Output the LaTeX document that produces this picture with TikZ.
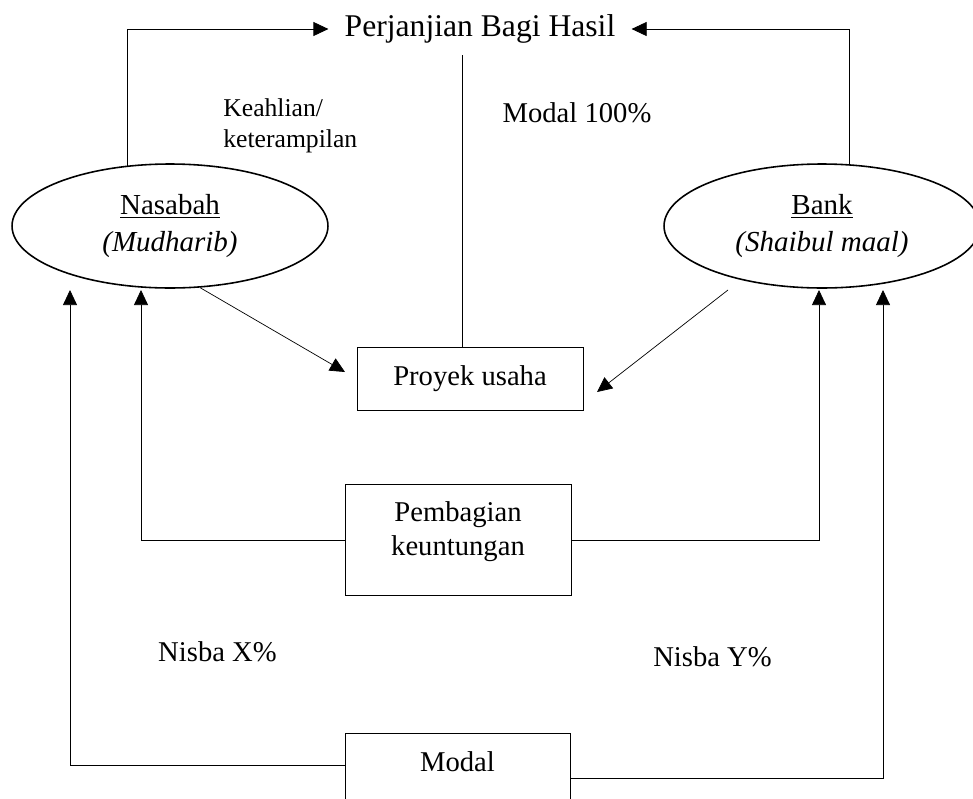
\documentclass[tikz,border=0pt]{standalone}
\usepackage{fontspec}
\setmainfont{Liberation Serif}
\usetikzlibrary{arrows.meta, shapes.geometric}
\tikzset{
	,line width = 1.1pt
	,font = \fontsize{16.3}{19.8}\selectfont
	,pihak/.style = {ellipse, draw=black, line width=0.9pt, align=center, inner sep=0pt, minimum width=6.32cm, minimum height=2.48cm, font=\fontsize{16.5}{21}\selectfont}
	,kotak/.style = {rectangle, draw=black, align=center, minimum width=4.52cm, minimum height=2.22cm}
	,teks/.style  = {inner sep=0pt, align=left}
	,garis/.style = {-}
	,panah/.style = {-{Triangle[length=0.3cm, width=0.28cm]}}
}

\begin{document}
\begin{tikzpicture}[x=0.02cm, y=-0.02cm]
		\useasboundingbox (0,0) rectangle (973,798);
		\clip (0,0) rectangle (973,798);
		\node[font=\fontsize{18}{21}\selectfont, inner xsep=0.32cm] at (480, 29) (perj) {Perjanjian Bagi Hasil};
		\node[pihak] at (170, 226) (nas)  {\underline{Nasabah}\\\textit{(Mudharib)}};
		\node[pihak] at (822, 226) (bank) {\underline{Bank}\\\textit{(Shaibul maal)}};
		\node[kotak, minimum height=1.26cm] at (470, 378.5) (proyek) {Proyek usaha};
		\node[kotak, text depth=0.44cm] at (458, 539.5) (bagi) {Pembagian\\keuntungan};
		\node[kotak, anchor=north, inner ysep=0pt, minimum height=0pt, minimum width=4.5cm,
			text height=0.76cm, text depth=1.5cm] at (457.5, 733) (modal) {Modal};
		\node[teks, anchor=west, font=\fontsize{14.6}{18}\selectfont] at (223, 126) (keahlian) {Keahlian/\\keterampilan};
		\node[teks] at (577, 113) (modal100) {Modal 100\%};
		\node[teks] at (217.5, 652) (nisbaX) {Nisba X\%};
		\node[teks] at (712.5, 657) (nisbaY) {Nisba Y\%};
		% ujung panah dan titik bantu
		\coordinate (mulai) at (462, 55);
		\coordinate (keProyekA) at (345, 372);
		\coordinate (dariBank) at (728, 290);
		\coordinate (keProyekB) at (597, 392);
		\coordinate (tipA) at (70, 290);
		\coordinate (tipB) at (141, 290);
		\coordinate (tipC) at (819, 290);
		\coordinate (tipD) at (883, 290);
		\coordinate (kB) at (141, 540);
		\coordinate (kX) at (70, 765);
		\coordinate (kY) at (883, 778);
		% garis ke perjanjian
		\draw[panah] (nas.125.6) |- (perj.west);
		\draw[panah] (bank.66.9) |- (perj.east);
		\draw[garis] (mulai) -- (mulai |- proyek.north);
		% ke proyek usaha
		\draw[panah] (nas.-64) -- (keProyekA);
		\draw[panah] (dariBank) -- (keProyekB);
		% pembagian keuntungan dan modal
		\draw[panah] (bagi.west |- kB) -| (tipB);
		\draw[panah] (bagi.east |- kB) -| (tipC);
		\draw[panah] (modal.west |- kX) -| (tipA);
		\draw[panah] (modal.east |- kY) -| (tipD);
	\end{tikzpicture}
\end{document}
